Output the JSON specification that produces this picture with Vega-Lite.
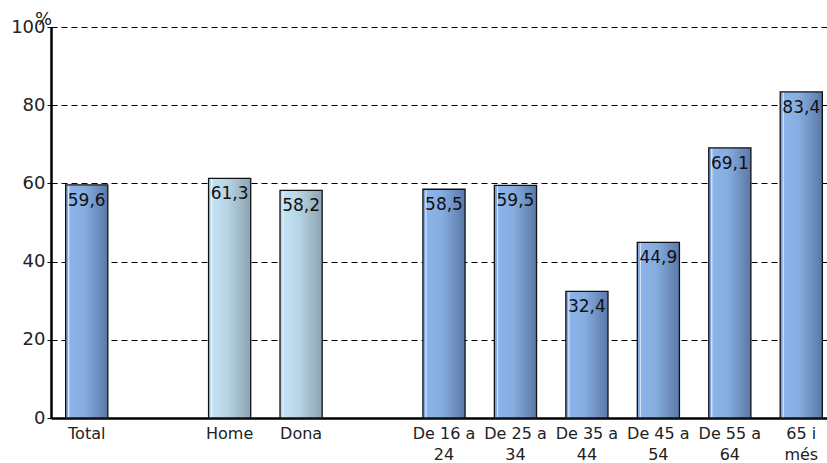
{
  "$schema": "https://vega.github.io/schema/vega-lite/v6.json",
  "autosize": {"type": "none"},
  "padding": {"left": 51, "top": 27, "right": 0, "bottom": 45},
  "width": 786,
  "height": 391,
  "background": "white",
  "config": {
    "font": "DejaVu Sans",
    "view": {"stroke": null}
  },
  "data": {
    "values": [
      {"cat": "Total", "grup": "total", "valor": 59.6, "etiqueta": "59,6"},
      {"cat": "Home", "grup": "sexe", "valor": 61.3, "etiqueta": "61,3"},
      {"cat": "Dona", "grup": "sexe", "valor": 58.2, "etiqueta": "58,2"},
      {"cat": "De 16 a|24", "grup": "edat", "valor": 58.5, "etiqueta": "58,5"},
      {"cat": "De 25 a|34", "grup": "edat", "valor": 59.5, "etiqueta": "59,5"},
      {"cat": "De 35 a|44", "grup": "edat", "valor": 32.4, "etiqueta": "32,4"},
      {"cat": "De 45 a|54", "grup": "edat", "valor": 44.9, "etiqueta": "44,9"},
      {"cat": "De 55 a|64", "grup": "edat", "valor": 69.1, "etiqueta": "69,1"},
      {"cat": "65 i|més", "grup": "edat", "valor": 83.4, "etiqueta": "83,4"}
    ]
  },
  "encoding": {
    "x": {
      "field": "cat",
      "type": "nominal",
      "sort": null,
      "scale": {
        "domain": ["Total", "gap1", "Home", "Dona", "gap2", "De 16 a|24", "De 25 a|34", "De 35 a|44", "De 45 a|54", "De 55 a|64", "65 i|més"],
        "paddingInner": 0.41,
        "paddingOuter": 0.205
      },
      "axis": {
        "title": null,
        "labelAngle": 0,
        "labelExpr": "indexof(datum.value, 'gap') == 0 ? '' : split(datum.value, '|')",
        "labelFont": "DejaVu Sans",
        "labelFontSize": 16,
        "labelColor": "#222222",
        "labelLineHeight": 21,
        "labelPadding": 7,
        "ticks": false,
        "domainColor": "#000000",
        "domainWidth": 2.5,
        "labelBaseline": "top"
      }
    },
    "y": {
      "field": "valor",
      "type": "quantitative",
      "scale": {"domain": [0, 100], "nice": false},
      "axis": {
        "values": [0, 20, 40, 60, 80, 100],
        "title": "%",
        "titleAngle": 0,
        "titleX": -8,
        "titleY": -8,
        "titleAlign": "center",
        "titleBaseline": "middle",
        "titleFontWeight": "normal",
        "titleFontSize": 18,
        "titleColor": "#222222",
        "labelFont": "DejaVu Sans",
        "labelFontSize": 18,
        "labelColor": "#222222",
        "labelPadding": 2,
        "tickSize": 4,
        "tickColor": "#000000",
        "domainColor": "#000000",
        "domainWidth": 2.5,
        "grid": true,
        "gridColor": "#000000",
        "gridDash": [6, 4],
        "gridWidth": 1
      }
    }
  },
  "layer": [
    {
      "transform": [{"filter": "datum.grup != 'sexe'"}],
      "mark": {
        "type": "bar",
        "stroke": "#111111",
        "strokeWidth": 1.3,
        "color": {
          "gradient": "linear",
          "x1": 0, "y1": 0, "x2": 1, "y2": 0,
          "stops": [
            {"offset": 0, "color": "#7fa6de"},
            {"offset": 0.05, "color": "#7fa6de"},
            {"offset": 0.07, "color": "#e6effa"},
            {"offset": 0.1, "color": "#8cb4ec"},
            {"offset": 0.45, "color": "#86addf"},
            {"offset": 1, "color": "#5a78a8"}
          ]
        }
      }
    },
    {
      "transform": [{"filter": "datum.grup == 'sexe'"}],
      "mark": {
        "type": "bar",
        "stroke": "#111111",
        "strokeWidth": 1.3,
        "color": {
          "gradient": "linear",
          "x1": 0, "y1": 0, "x2": 1, "y2": 0,
          "stops": [
            {"offset": 0, "color": "#b7d7ea"},
            {"offset": 0.05, "color": "#b7d7ea"},
            {"offset": 0.07, "color": "#eef6fb"},
            {"offset": 0.1, "color": "#c2e2f4"},
            {"offset": 0.45, "color": "#b6d4e4"},
            {"offset": 1, "color": "#8ea3b1"}
          ]
        }
      }
    },
    {
      "mark": {
        "type": "text",
        "baseline": "middle",
        "align": "center",
        "dy": 16,
        "font": "DejaVu Sans",
        "fontSize": 17,
        "color": "#111111"
      },
      "encoding": {
        "text": {"field": "etiqueta"}
      }
    }
  ]
}
